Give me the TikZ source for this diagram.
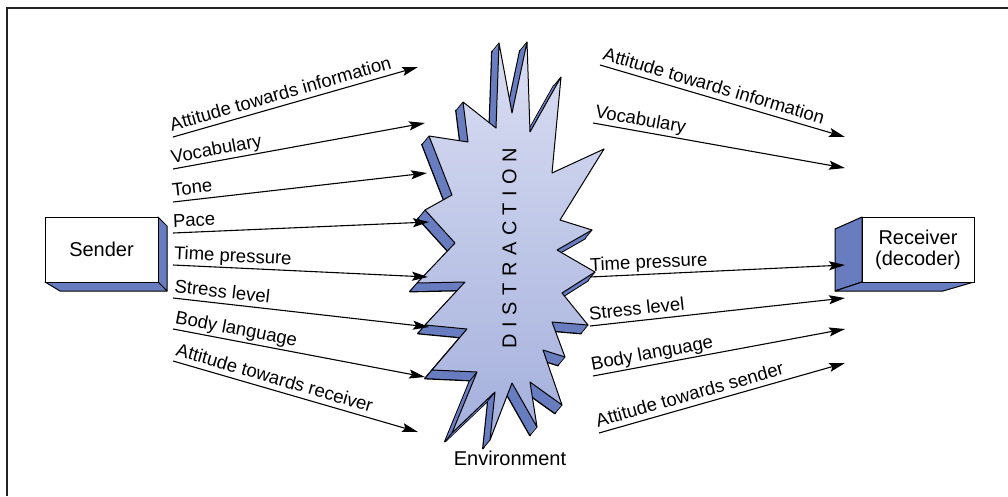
\documentclass[tikz,border=0pt]{standalone}
\usepackage{fontspec}
\setmainfont{Liberation Sans}
\usetikzlibrary{arrows.meta}
\definecolor{side}{RGB}{104,124,192}
\definecolor{burstlight}{RGB}{218,222,242}
\definecolor{burstdark}{RGB}{164,176,221}
\definecolor{framecol}{RGB}{35,35,35}
\def\burstpath{(499,43) -- (512,113) -- (527,42) -- (530,132) -- (561,77) -- (552,173) -- (604,149) -- (560,220) -- (592,230) -- (557,250) -- (595,272) -- (562,293) -- (588,325) -- (552,322) -- (565,357) -- (543,350) -- (562,405) -- (530,382) -- (537,427) -- (512,383) -- (490,440) -- (495,392) -- (452,433) -- (477,372) -- (432,370) -- (467,329) -- (425,325) -- (465,282) -- (417,283) -- (455,243) -- (425,210) -- (452,195) -- (429,136) -- (468,142) -- (463,102) -- (496,128) -- cycle}
\def\ls{\hspace{6.5pt}}
\begin{document}
\begin{tikzpicture}[x=1pt,y=-1pt,
  lbl/.style={font=\fontsize{18.5}{20}\selectfont, sloped, anchor=south west, pos=0, inner xsep=0pt, inner ysep=2.5pt, text depth=0.28em, text height=0.72em},
  arr/.style={line width=1.1pt, -{Stealth[length=16pt,width=9pt,inset=3pt]}},
  boxlbl/.style={font=\fontsize{20}{21}\selectfont, align=center, inner sep=0pt},
  boxside/.style={draw=black, fill=side, line width=1pt, line join=round}]

\useasboundingbox (0,0) rectangle (1008,496);
\fill[white] (0,0) rectangle (1008,496);
\draw[framecol, line width=2.6pt] (7,496) -- (7,8) -- (1008,8);

% Sender box
\draw[boxside] (158,217) -- (167,226) -- (167,291) -- (158,282) -- cycle;
\draw[boxside] (45,282) -- (60,291) -- (167,291) -- (158,282) -- cycle;
\node[draw, fill=white, line width=1pt, minimum width=113pt, minimum height=65pt, boxlbl] (sender) at (101.5,249.5) {Sender};

% Receiver box
\draw[boxside] (862,217) -- (835,229) -- (835,291) -- (862,282) -- cycle;
\draw[boxside] (835,291) -- (943,291) -- (974,282) -- (862,282) -- cycle;
\node[draw, fill=white, line width=1pt, minimum width=112pt, minimum height=65pt, boxlbl] (receiver) at (918,249.5) {Receiver\\(decoder)};

% Distraction burst (extruded)
\begin{scope}[shift={(-7,8.5)}]
  \draw[fill=side, line width=1.8pt, line join=round] \burstpath;
\end{scope}
\foreach \t in {1,...,19} {
  \fill[side, shift={({-7*\t/20},{8.5*\t/20})}] \burstpath;
}
\foreach \x/\y in {499/43,512/113,527/42,530/132,561/77,552/173,604/149,560/220,592/230,557/250,595/272,562/293,588/325,552/322,565/357,543/350,562/405,530/382,537/427,512/383,490/440,495/392,452/433,477/372,432/370,467/329,425/325,465/282,417/283,455/243,425/210,452/195,429/136,468/142,463/102,496/128} {
  \draw[line width=0.8pt] (\x,\y) -- ++(-7,8.5);
}
\draw[line width=1pt, line join=round, top color=burstlight, bottom color=burstdark] \burstpath;

\node[rotate=90, font=\fontsize{20}{20}\selectfont, inner sep=0pt] (distr) at (509.5,248) {D\ls I\ls S\ls T\ls R\ls A\ls C\ls T\ls I\ls O\ls N};
\node[font=\fontsize{20}{20}\selectfont, anchor=base, inner sep=0pt] (env) at (510,465) {Environment};

% Left arrows
\coordinate (l1s) at (173,137); \coordinate (l1e) at (418,67);
\coordinate (l2s) at (173,169); \coordinate (l2e) at (425,123);
\coordinate (l3s) at (173,202); \coordinate (l3e) at (427,173);
\coordinate (l4s) at (173,233); \coordinate (l4e) at (429,222);
\coordinate (l5s) at (173,265); \coordinate (l5e) at (428,277);
\coordinate (l6s) at (173,298); \coordinate (l6e) at (429,327);
\coordinate (l7s) at (173,329); \coordinate (l7e) at (425,377);
\coordinate (l8s) at (173,361); \coordinate (l8e) at (418,432);
\draw[arr] (l1s) -- node[lbl] (tl1) {Attitude towards information} (l1e);
\draw[arr] (l2s) -- node[lbl] (tl2) {Vocabulary} (l2e);
\draw[arr] (l3s) -- node[lbl] (tl3) {Tone} (l3e);
\draw[arr] (l4s) -- node[lbl] (tl4) {Pace} (l4e);
\draw[arr] (l5s) -- node[lbl] (tl5) {Time pressure} (l5e);
\draw[arr] (l6s) -- node[lbl] (tl6) {Stress level} (l6e);
\draw[arr] (l7s) -- node[lbl] (tl7) {Body language} (l7e);
\draw[arr] (l8s) -- node[lbl] (tl8) {Attitude towards receiver} (l8e);

% Right arrows
\coordinate (r1s) at (600,65); \coordinate (r1e) at (845,137);
\coordinate (r2s) at (593,123); \coordinate (r2e) at (845,168);
\coordinate (r3s) at (590,277); \coordinate (r3e) at (845,265);
\coordinate (r4s) at (590,326); \coordinate (r4e) at (845,298);
\coordinate (r5s) at (593,376); \coordinate (r5e) at (845,329);
\coordinate (r6s) at (599,433); \coordinate (r6e) at (845,363);
\draw[arr] (r1s) -- node[lbl] (tr1) {Attitude towards information} (r1e);
\draw[arr] (r2s) -- node[lbl] (tr2) {Vocabulary} (r2e);
\draw[arr] (r3s) -- node[lbl] (tr3) {Time pressure} (r3e);
\draw[arr] (r4s) -- node[lbl] (tr4) {Stress level} (r4e);
\draw[arr] (r5s) -- node[lbl] (tr5) {Body language} (r5e);
\draw[arr] (r6s) -- node[lbl] (tr6) {Attitude towards sender} (r6e);
\end{tikzpicture}
\end{document}
